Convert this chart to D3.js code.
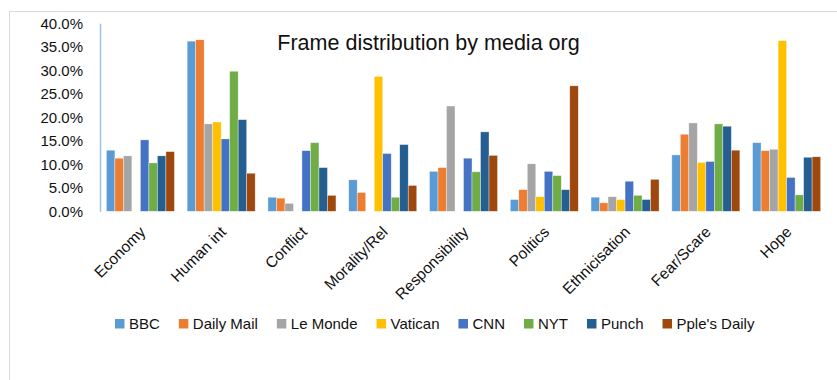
<!DOCTYPE html>
<html>
<head>
<meta charset="utf-8">
<script src="https://cdn.jsdelivr.net/npm/d3@7"></script>
<style>
  body { margin: 0; background: #fff; }
  svg text { font-family: "Liberation Sans", Arial, sans-serif; fill: #111; }
</style>
</head>
<body>
<div id="chart"></div>
<script>
const width = 837;
const height = 380;

const frames = ['Economy', 'Human int', 'Conflict', 'Morality/Rel', 'Responsibility',
  'Politics', 'Ethnicisation', 'Fear/Scare', 'Hope'];
const outlets = ['BBC', 'Daily Mail', 'Le Monde', 'Vatican', 'CNN', 'NYT', 'Punch', "Pple's Daily"];
const colors = ['#5B9BD5', '#ED7D31', '#A5A5A5', '#FFC000', '#4472C4', '#70AD47', '#255E91', '#9E480E'];

// share of each frame per outlet (same order as frames)
const bbc = [0.130, 0.362, 0.030, 0.067, 0.085, 0.025, 0.030, 0.120, 0.146];
const dailyMail = [0.113, 0.365, 0.028, 0.040, 0.093, 0.046, 0.018, 0.164, 0.129];
const leMonde = [0.118, 0.186, 0.017, 0.000, 0.224, 0.101, 0.031, 0.188, 0.132];
const vatican = [0.000, 0.190, 0.000, 0.287, 0.000, 0.031, 0.025, 0.104, 0.363];
const cnn = [0.152, 0.154, 0.129, 0.123, 0.113, 0.085, 0.064, 0.106, 0.072];
const nyt = [0.103, 0.298, 0.146, 0.030, 0.084, 0.076, 0.034, 0.186, 0.035];
const punch = [0.118, 0.195, 0.093, 0.142, 0.169, 0.046, 0.025, 0.181, 0.115];
const ppleDaily = [0.127, 0.081, 0.034, 0.055, 0.119, 0.267, 0.068, 0.130, 0.116];

const seriesValues = [bbc, dailyMail, leMonde, vatican, cnn, nyt, punch, ppleDaily];
const yTicks = [0, 0.05, 0.10, 0.15, 0.20, 0.25, 0.30, 0.35, 0.40];

const svg = d3.select('#chart')
  .append('svg')
  .attr('width', width)
  .attr('height', height);

// chart area frame (runs off the right and bottom of the picture)
svg.append('rect')
  .attr('x', 9.5)
  .attr('y', 11.5)
  .attr('width', 900)
  .attr('height', 400)
  .attr('fill', 'none')
  .attr('stroke', '#d9d9d9');

const plot = { left: 100, right: 827, top: 23.3, bottom: 211.3 };

const x0 = d3.scaleBand()
  .domain(frames)
  .range([plot.left, plot.right])
  .padding(0);

const x1 = d3.scaleBand()
  .domain(outlets)
  .range([0, x0.bandwidth()])
  .paddingInner(0)
  .paddingOuter(0.75);

const y = d3.scaleLinear()
  .domain([0, 0.4])
  .range([plot.bottom, plot.top]);

const color = d3.scaleOrdinal()
  .domain(outlets)
  .range(colors);

const rows = [];
outlets.forEach((o, i) => {
  frames.forEach((f, j) => {
    rows.push({ outlet: o, frame: f, value: seriesValues[i][j] });
  });
});

svg.append('g')
  .selectAll('rect')
  .data(rows.filter(d => d.value > 0))
  .enter()
  .append('rect')
  .attr('x', d => x0(d.frame) + x1(d.outlet))
  .attr('y', d => y(d.value))
  .attr('width', x1.bandwidth())
  .attr('height', d => y(0) - y(d.value))
  .attr('fill', d => color(d.outlet))
  .attr('stroke', 'rgba(255,255,255,0.6)')
  .attr('stroke-width', 0.6);

// y axis
const yAxis = svg.append('g')
  .attr('transform', `translate(${plot.left}, 0)`)
  .call(d3.axisLeft(y).tickValues(yTicks).tickFormat(d3.format('.1%')).tickSize(0).tickPadding(17));
yAxis.select('.domain')
  .attr('stroke', '#9DC3E6')
  .attr('stroke-width', 1.5);
yAxis.selectAll('text')
  .style('font-size', '15px')
  .attr('fill', '#111');

// x labels
svg.append('g')
  .selectAll('text')
  .data(frames)
  .enter()
  .append('text')
  .attr('text-anchor', 'end')
  .attr('transform', d => `translate(${x0(d) + x0.bandwidth() / 2 + 6}, 233) rotate(-45)`)
  .style('font-size', '15.5px')
  .text(d => d);

svg.append('text')
  .attr('x', 428.5)
  .attr('y', 50)
  .attr('text-anchor', 'middle')
  .style('font-size', '21.5px')
  .text('Frame distribution by media org');

// legend
const legend = svg.append('g');
let lx = 0;
outlets.forEach(o => {
  const item = legend.append('g').attr('transform', `translate(${lx}, 0)`);
  item.append('rect')
    .attr('x', 0)
    .attr('y', 319)
    .attr('width', 9.5)
    .attr('height', 9.5)
    .attr('fill', color(o));
  const t = item.append('text')
    .attr('x', 14)
    .attr('y', 329)
    .style('font-size', '15px')
    .text(o);
  lx += 14 + t.node().getComputedTextLength() + 19;
});
const legendWidth = lx - 19;
legend.attr('transform', `translate(${434.7 - legendWidth / 2}, 0)`);
</script>
</body>
</html>
